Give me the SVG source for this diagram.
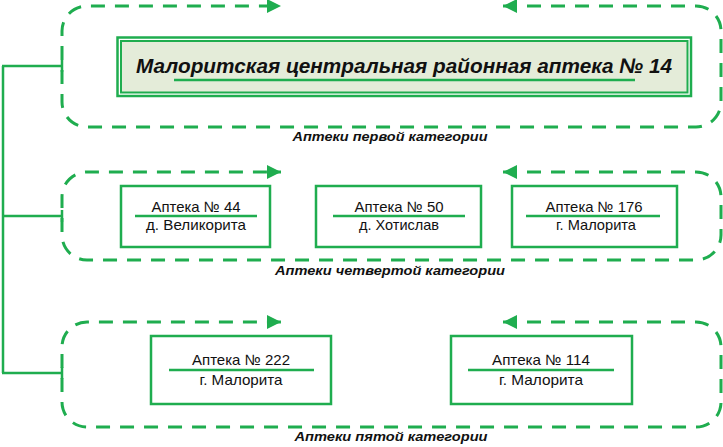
<svg xmlns="http://www.w3.org/2000/svg" width="723" height="447" viewBox="0 0 723 447">
<defs>
<style>
.dash{fill:none;stroke:#1fad4f;stroke-width:3;stroke-dasharray:14 10;marker-start:url(#arr);marker-end:url(#arr)}
.conn{fill:none;stroke:#1fad4f;stroke-width:2.5}
.box{fill:#fff;stroke:#1fad4f;stroke-width:2.5}
.sep{stroke:#1fad4f;stroke-width:2.5}
.t{font-family:"Liberation Sans",Arial,sans-serif;font-size:15px;fill:#111;text-anchor:middle}
.lbl{font-family:"Liberation Sans",Arial,sans-serif;font-size:13.5px;font-weight:bold;font-style:italic;fill:#111;text-anchor:middle}
.main{font-family:"Liberation Sans",Arial,sans-serif;font-size:21px;font-weight:bold;font-style:italic;fill:#111}
</style>
<marker id="arr" markerUnits="userSpaceOnUse" markerWidth="14" markerHeight="14" viewBox="0 0 12 12" refX="12" refY="6" orient="auto-start-reverse">
<path d="M0,0 L12,6 L0,12 Z" fill="#1fad4f"/>
</marker>
</defs>

<g id="connectors">
<path class="conn" d="M3,66 V373"/>
<path class="conn" d="M2,66 H62 M62,60 V72"/>
<path class="conn" d="M2,216 H62 M62,210 V222"/>
<path class="conn" d="M2,373 H62 M62,367 V379"/>
<path class="dash" d="M503,6 H696 A25,25 0 0 1 721,31 V102 A25,25 0 0 1 696,127 H87 A25,25 0 0 1 62,102 V31 A25,25 0 0 1 87,6 H281"/>
<path class="dash" d="M503,172 H696 A25,25 0 0 1 721,197 V235 A25,25 0 0 1 696,260 H87 A25,25 0 0 1 62,235 V197 A25,25 0 0 1 87,172 H281"/>
<path class="dash" d="M503,322 H696 A25,25 0 0 1 721,347 V402 A25,25 0 0 1 696,427 H87 A25,25 0 0 1 62,402 V347 A25,25 0 0 1 87,322 H281"/>
</g>

<g id="main-box">
<rect x="117.5" y="37.5" width="573.5" height="58.5" fill="#fff" stroke="#1fad4f" stroke-width="2.5"/>
<rect x="121" y="41" width="566.5" height="51.5" fill="#e4ecd9" stroke="#1fad4f" stroke-width="2"/>
<line class="sep" x1="174" y1="80" x2="635" y2="80" stroke-width="3"/>
<text class="main" x="136" y="73" textLength="536" lengthAdjust="spacingAndGlyphs">Малоритская центральная районная аптека № 14</text>
</g>
<g id="label-1"><text class="lbl" x="390" y="141" textLength="195" lengthAdjust="spacingAndGlyphs">Аптеки первой категории</text></g>

<g id="node-44">
<rect class="box" x="121" y="186" width="149" height="61"/>
<line class="sep" x1="135" y1="216" x2="257" y2="216"/>
<text class="t" x="196" y="212" textLength="89" lengthAdjust="spacingAndGlyphs">Аптека № 44</text>
<text class="t" x="196" y="230" textLength="100" lengthAdjust="spacingAndGlyphs">д. Великорита</text>
</g>
<g id="node-50">
<rect class="box" x="316" y="186" width="165" height="61"/>
<line class="sep" x1="333" y1="216" x2="465" y2="216"/>
<text class="t" x="399" y="212" textLength="89" lengthAdjust="spacingAndGlyphs">Аптека № 50</text>
<text class="t" x="399" y="230" textLength="80" lengthAdjust="spacingAndGlyphs">д. Хотислав</text>
</g>
<g id="node-176">
<rect class="box" x="512" y="186" width="165" height="61"/>
<line class="sep" x1="526" y1="216" x2="660" y2="216"/>
<text class="t" x="594" y="212" textLength="97" lengthAdjust="spacingAndGlyphs">Аптека № 176</text>
<text class="t" x="596" y="230" textLength="80" lengthAdjust="spacingAndGlyphs">г. Малорита</text>
</g>
<g id="label-4"><text class="lbl" x="390" y="275" textLength="230" lengthAdjust="spacingAndGlyphs">Аптеки четвертой категории</text></g>

<g id="node-222">
<rect class="box" x="151" y="336" width="180" height="68"/>
<line class="sep" x1="169" y1="370" x2="314" y2="370"/>
<text class="t" x="241" y="365" textLength="98" lengthAdjust="spacingAndGlyphs">Аптека № 222</text>
<text class="t" x="241" y="385" textLength="83" lengthAdjust="spacingAndGlyphs">г. Малорита</text>
</g>
<g id="node-114">
<rect class="box" x="451" y="336" width="181" height="68"/>
<line class="sep" x1="468" y1="370" x2="614" y2="370"/>
<text class="t" x="541" y="365" textLength="98" lengthAdjust="spacingAndGlyphs">Аптека № 114</text>
<text class="t" x="541" y="385" textLength="84" lengthAdjust="spacingAndGlyphs">г. Малорита</text>
</g>
<g id="label-5"><text class="lbl" x="391" y="441" textLength="193" lengthAdjust="spacingAndGlyphs">Аптеки пятой категории</text></g>
</svg>
